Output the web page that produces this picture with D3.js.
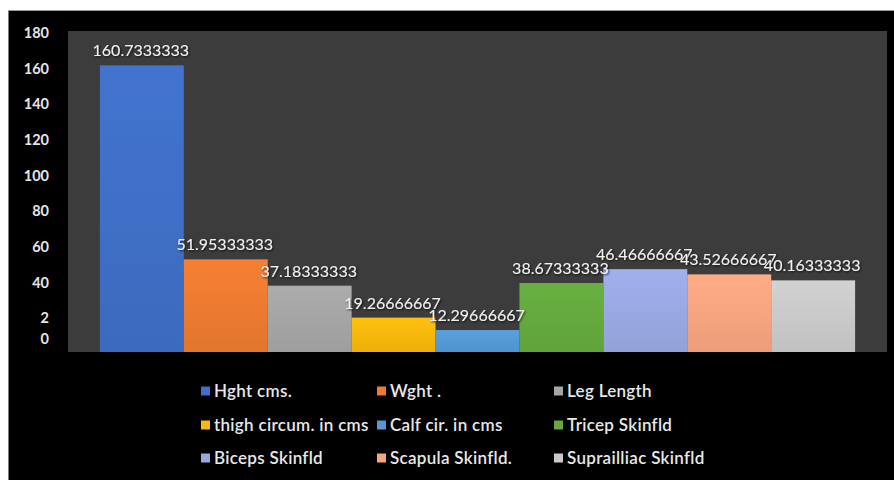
<!DOCTYPE html>
<html>
<head>
<meta charset="utf-8">
<script src="https://cdn.jsdelivr.net/npm/d3@7"></script>
<style>
  html, body { margin: 0; padding: 0; background: #ffffff; }
  svg { display: block; }
</style>
</head>
<body>
<svg id="chart" width="894" height="480"></svg>
<script>
// Body measurement averages, one bar per measure
const seriesNames = [
  "Hght cms.", "Wght .", "Leg Length",
  "thigh circum. in cms", "Calf cir. in cms", "Tricep Skinfld",
  "Biceps Skinfld", "Scapula Skinfld.", "Suprailliac Skinfld"
];
const seriesValues = [
  160.7333333, 51.95333333, 37.18333333,
  19.26666667, 12.29666667, 38.67333333,
  46.46666667, 43.52666667, 40.16333333
];
const seriesColors = [
  "#3f6fc6", "#ec7b30", "#a5a5a5",
  "#f7b80c", "#5499d6", "#64aa3e",
  "#98a9e2", "#f6a57f", "#c9c9c9"
];
const yTickValues = [8.5, 20, 40, 60, 80, 100, 120, 140, 160, 180];
const yTickLabels = ["0", "2", "40", "60", "80", "100", "120", "140", "160", "180"];

const W = 894, H = 480;
const plot = { left: 68, right: 887, top: 31, bottom: 352 };

const svg = d3.select("#chart");
const defs = svg.append("defs");

// dark panel
svg.append("rect").attr("x", 8).attr("y", 10).attr("width", W - 8).attr("height", H - 10)
  .attr("fill", "#000000");
svg.append("line").attr("x1", 8.5).attr("x2", 8.5).attr("y1", 10).attr("y2", H)
  .attr("stroke", "#7a7a7a").attr("stroke-width", 1);
svg.append("line").attr("x1", 8).attr("x2", W).attr("y1", 10.5).attr("y2", 10.5)
  .attr("stroke", "#9a9a9a").attr("stroke-width", 1);

// plot area
svg.append("rect")
  .attr("x", plot.left).attr("y", plot.top)
  .attr("width", plot.right - plot.left).attr("height", plot.bottom - plot.top)
  .attr("fill", "#3c3c3c");

const x = d3.scaleBand()
  .domain(seriesNames)
  .range([plot.left, plot.right])
  .paddingInner(0)
  .paddingOuter(0.38);

const y = d3.scaleLinear().domain([0, 180]).range([plot.bottom, plot.top]);

// soft vertical shading on each bar
seriesColors.forEach((c, i) => {
  const g = defs.append("linearGradient").attr("id", "grad" + i)
    .attr("x1", 0).attr("x2", 0).attr("y1", 0).attr("y2", 1);
  g.append("stop").attr("offset", "0%").attr("stop-color", d3.color(c).brighter(0.12));
  g.append("stop").attr("offset", "100%").attr("stop-color", d3.color(c).darker(0.12));
});

const shadow = defs.append("filter").attr("id", "txtShadow")
  .attr("x", "-10%").attr("y", "-30%").attr("width", "120%").attr("height", "160%");
shadow.append("feDropShadow").attr("dx", 1).attr("dy", 1).attr("stdDeviation", 0.8)
  .attr("flood-color", "#000").attr("flood-opacity", 0.8);

const data = seriesNames.map((n, i) => ({ name: n, value: seriesValues[i], idx: i }));

svg.append("g").selectAll("rect")
  .data(data)
  .join("rect")
  .attr("x", d => x(d.name))
  .attr("width", x.bandwidth())
  .attr("y", d => y(d.value))
  .attr("height", d => y(0) - y(d.value))
  .attr("fill", d => `url(#grad${d.idx})`);

// value labels
svg.append("g").selectAll("text")
  .data(data)
  .join("text")
  .attr("x", d => x(d.name) + x.bandwidth() / 2 - 1)
  .attr("y", d => y(d.value) - 9)
  .attr("text-anchor", "middle")
  .attr("font-family", "Lato, 'Open Sans', sans-serif")
  .attr("font-size", 16)
  .attr("fill", "#f2f2f2")
  .attr("filter", "url(#txtShadow)")
  .text(d => String(d.value));

// value axis
const yAxis = d3.axisLeft(y)
  .tickValues(yTickValues)
  .tickSize(0)
  .tickPadding(0)
  .tickFormat((d, i) => yTickLabels[i]);

const yg = svg.append("g")
  .attr("transform", `translate(49,2)`)
  .call(yAxis);
yg.select(".domain").remove();
yg.selectAll("text")
  .attr("font-family", "Lato, 'Open Sans', sans-serif")
  .attr("font-size", 14.5)
  .attr("font-weight", 700)
  .attr("fill", "#e6e6e6");

// legend, three columns
const legend = svg.append("g");
const colX = [201, 377, 554];
const rowY = [391, 425, 458];
const items = legend.selectAll("g")
  .data(data)
  .join("g")
  .attr("transform", (d, i) => `translate(${colX[i % 3]},${rowY[Math.floor(i / 3)]})`);
items.append("rect")
  .attr("x", 0).attr("y", -4.5)
  .attr("width", 9).attr("height", 9)
  .attr("fill", d => seriesColors[d.idx]);
items.append("text")
  .attr("x", 13)
  .attr("y", 0)
  .attr("dy", "0.35em")
  .attr("font-family", "Lato, 'Open Sans', sans-serif")
  .attr("font-size", 17)
  .attr("font-weight", 600)
  .attr("letter-spacing", 0.3)
  .attr("fill", "#e8e8e8")
  .text(d => d.name);
</script>
</body>
</html>
